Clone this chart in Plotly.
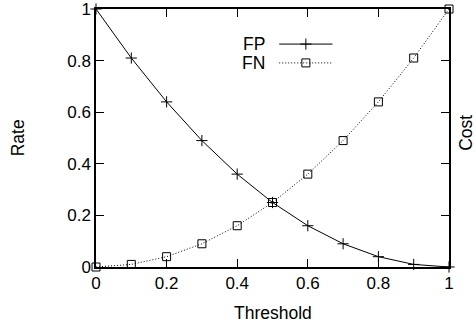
import plotly.graph_objects as go

threshold = [0, 0.1, 0.2, 0.3, 0.4, 0.5, 0.6, 0.7, 0.8, 0.9, 1.0]
fp_rate = [1.0, 0.81, 0.64, 0.49, 0.36, 0.25, 0.16, 0.09, 0.04, 0.01, 0.0]
fn_rate = [0.0, 0.01, 0.04, 0.09, 0.16, 0.25, 0.36, 0.49, 0.64, 0.81, 1.0]
x_ticks = [0, 0.2, 0.4, 0.6, 0.8, 1]
x_tick_labels = ["0", "0.2", "0.4", "0.6", "0.8", "1"]
y_ticks = [0, 0.2, 0.4, 0.6, 0.8, 1]
y_tick_labels = ["0", "0.2", "0.4", "0.6", "0.8", "1"]

FONT = "Liberation Sans, Arial, sans-serif"
DOT = "1px,2px"

fp_marker = dict(symbol="cross-thin-open", size=8, color="black", line=dict(color="black", width=1))
fn_marker = dict(symbol="square-open", size=8, color="black", line=dict(color="black", width=1))

fig = go.Figure()
fig.add_trace(go.Scatter(
    x=threshold, y=fp_rate, mode="lines+markers", name="FP",
    line=dict(color="black", width=1), marker=fp_marker, cliponaxis=False,
))
fig.add_trace(go.Scatter(
    x=threshold, y=fn_rate, mode="lines+markers", name="FN",
    line=dict(color="black", width=1, dash=DOT), marker=fn_marker, cliponaxis=False,
))

# legend samples on an overlay axis (0..1 of plot area)
leg_x = [0.519, 0.670]
fp_y, fn_y = 0.864, 0.791
fig.add_trace(go.Scatter(x=leg_x, y=[fp_y, fp_y], xaxis="x2", yaxis="y2", mode="lines",
                         line=dict(color="black", width=1), showlegend=False, hoverinfo="skip"))
fig.add_trace(go.Scatter(x=[sum(leg_x) / 2], y=[fp_y], xaxis="x2", yaxis="y2", mode="markers",
                         marker=fp_marker, showlegend=False, hoverinfo="skip"))
fig.add_trace(go.Scatter(x=leg_x, y=[fn_y, fn_y], xaxis="x2", yaxis="y2", mode="lines",
                         line=dict(color="black", width=1, dash=DOT), showlegend=False, hoverinfo="skip"))
fig.add_trace(go.Scatter(x=[sum(leg_x) / 2], y=[fn_y], xaxis="x2", yaxis="y2", mode="markers",
                         marker=fn_marker, showlegend=False, hoverinfo="skip"))

axis_common = dict(
    showline=True, linecolor="black", linewidth=1.5, mirror="ticks",
    ticks="inside", ticklen=8, tickcolor="black", tickwidth=1,
    showgrid=False, zeroline=False, automargin=False, ticklabeloverflow="allow",
    tickfont=dict(family=FONT, size=17, color="black"),
)

txt = dict(family=FONT, size=17.5, color="black")

fig.update_layout(
    template="none",
    width=476, height=329,
    margin=dict(l=96, r=27, t=9, b=62),
    paper_bgcolor="white", plot_bgcolor="white",
    showlegend=False,
    font=dict(family=FONT, color="black"),
    xaxis=dict(range=[0, 1], tickvals=x_ticks, ticktext=x_tick_labels, **axis_common),
    yaxis=dict(range=[0, 1], tickvals=y_ticks, ticktext=y_tick_labels, **axis_common),
    xaxis2=dict(range=[0, 1], overlaying="x", visible=False, automargin=False),
    yaxis2=dict(range=[0, 1], overlaying="y", visible=False, automargin=False),
    annotations=[
        dict(text="FP", xref="x2", yref="y2", x=0.485, y=fp_y, xanchor="right", yanchor="middle",
             showarrow=False, font=txt),
        dict(text="FN", xref="x2", yref="y2", x=0.485, y=fn_y, xanchor="right", yanchor="middle",
             showarrow=False, font=txt),
        dict(text="Threshold", xref="paper", yref="paper", x=0.5, y=-0.18, xanchor="center",
             yanchor="middle", showarrow=False, font=txt),
        dict(text="Rate", xref="paper", yref="paper", x=-0.22, y=0.5, xanchor="center",
             yanchor="middle", textangle=-90, showarrow=False, font=txt),
        dict(text="Cost", xref="paper", yref="paper", x=1.048, y=0.52, xanchor="center",
             yanchor="middle", textangle=-90, showarrow=False, font=txt),
    ],
)

fig.write_html(
    "out.html",
    config={"displayModeBar": False},
    post_script="document.body.style.margin='0';document.body.style.padding='0';",
)
